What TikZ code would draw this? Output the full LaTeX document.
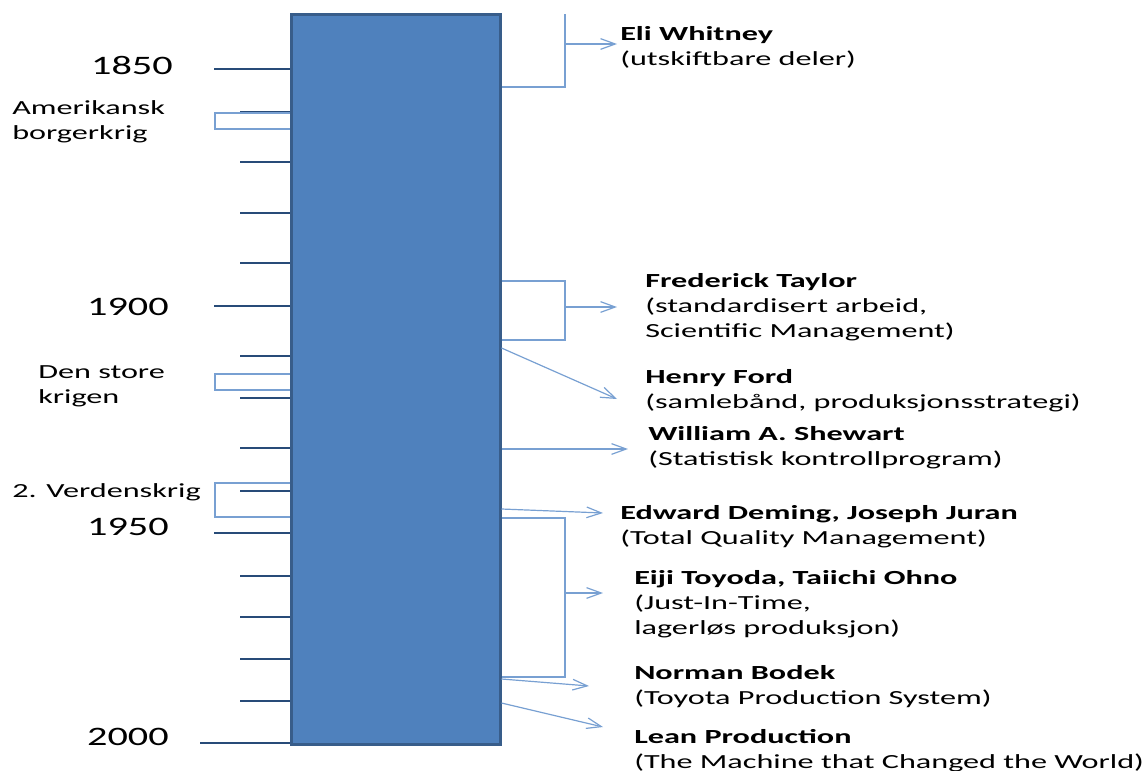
\documentclass[tikz,border=0pt]{standalone}
\usepackage{fontspec}
\setmainfont{Carlito}[FakeStretch=1.61]
\newfontfamily\yearfont{Carlito}[FakeStretch=1.51]
\usetikzlibrary{arrows.meta}

\definecolor{barfill}{RGB}{79,129,189}
\definecolor{barline}{RGB}{56,93,138}
\definecolor{tickline}{RGB}{40,75,120}
\definecolor{linkline}{RGB}{120,160,210}

\tikzset{
  yeartick/.style={tickline, line width=1.5pt},
  link/.style={linkline, line width=0.9pt},
  arr/.style={link, -{Straight Barb[length=11pt,width=8pt]}},
  year/.style={anchor=base east, inner sep=0pt, font=\yearfont\fontsize{20}{24}\selectfont},
  txtnote/.style={anchor=base west, inner sep=0pt, align=left, font=\fontsize{15}{18.75}\selectfont},
}

\begin{document}
\begin{tikzpicture}[x=0.75pt,y=0.75pt,yscale=-1,xscale=1]
\path[use as bounding box] (0,0) rectangle (1143,771);

% time bar
\node[draw=barline, fill=barfill, line width=2.25pt, minimum width=156.75pt,
  minimum height=547.5pt, inner sep=0pt] (bar) at (395.5,379) {};

% ticks
\foreach \y in {112,162,213,263,356,398,448,491,576,617,659,701}
  \draw[yeartick] (240,\y) -- (bar.west |- 0,\y);
\foreach \y in {69,306,533}
  \draw[yeartick] (214,\y) -- (bar.west |- 0,\y);
\draw[yeartick] (200,743) -- (bar.west |- 0,743);

% years
\node[year] (y1850) at (173,74) {1850};
\node[year] (y1900) at (169,315) {1900};
\node[year] (y1950) at (169,535) {1950};
\node[year] (y2000) at (169,745) {2000};

% wars (base = last line)
\node[txtnote] (borgerkrig) at (12,139) {Amerikansk\\borgerkrig};
\node[txtnote] (storekrig) at (38,403) {Den store\\krigen};
\node[txtnote] (verdenskrig) at (12,497) {2. Verdenskrig};
\draw[link] (bar.west |- 0,113) -- (215,113) -- (215,129) -- (bar.west |- 0,129);
\draw[link] (bar.west |- 0,374) -- (215,374) -- (215,390) -- (bar.west |- 0,390);
\draw[link] (bar.west |- 0,483) -- (215,483) -- (215,517) -- (bar.west |- 0,517);

% events
\node[txtnote] (whitney) at (620,65) {\textbf{Eli Whitney}\\(utskiftbare deler)};
\node[txtnote] (taylor) at (645,337) {\textbf{Frederick Taylor}\\(standardisert arbeid,\\Scientific Management)};
\node[txtnote] (ford) at (645,408) {\textbf{Henry Ford}\\(samlebånd, produksjonsstrategi)};
\node[txtnote] (shewart) at (648,465) {\textbf{William A. Shewart}\\(Statistisk kontrollprogram)};
\node[txtnote] (deming) at (620,544) {\textbf{Edward Deming, Joseph Juran}\\(Total Quality Management)};
\node[txtnote] (toyoda) at (634,634) {\textbf{Eiji Toyoda, Taiichi Ohno}\\(Just-In-Time,\\lagerløs produksjon)};
\node[txtnote] (bodek) at (634,704) {\textbf{Norman Bodek}\\(Toyota Production System)};
\node[txtnote] (lean) at (634,768) {\textbf{Lean Production}\\(The Machine that Changed the World)};

% arrow tips
\coordinate (whitneytip) at (617,44);
\coordinate (taylortip) at (617,307);
\coordinate (fordtip) at (617,399);
\coordinate (shewarttip) at (628,449);
\coordinate (demingtip) at (603,513);
\coordinate (toyodatip) at (603,593);
\coordinate (bodektip) at (589,686);
\coordinate (leantip) at (603,727);

% connectors
\draw[link] (bar.east |- 0,87) -| (565,14);
\draw[arr] (565,44) -- (whitneytip);
\draw[link] (bar.east |- 0,281) -| (565,340) -- (bar.east |- 0,340);
\draw[arr] (565,307) -- (taylortip);
\draw[arr] (bar.east |- 0,348) -- (fordtip);
\draw[arr] (bar.east |- 0,449) -- (shewarttip);
\draw[arr] (bar.east |- 0,509) -- (demingtip);
\draw[link] (bar.east |- 0,518) -| (565,677) -- (bar.east |- 0,677);
\draw[arr] (565,593) -- (toyodatip);
\draw[arr] (bar.east |- 0,679) -- (bodektip);
\draw[arr] (bar.east |- 0,703) -- (leantip);

\end{tikzpicture}
\end{document}
